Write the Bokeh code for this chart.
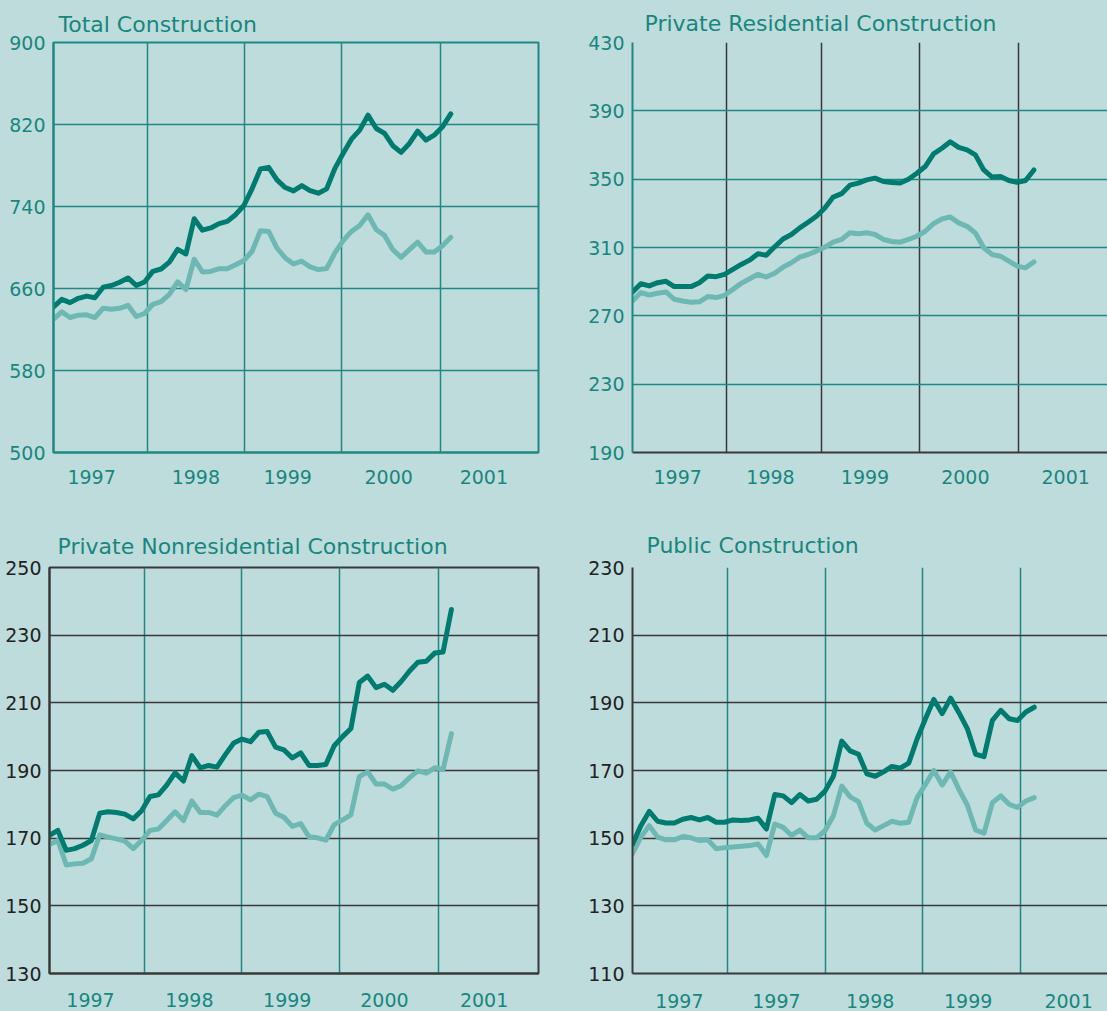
from bokeh.plotting import figure
from bokeh.layouts import column, row
from bokeh.models import FixedTicker, Range1d
from bokeh.embed import file_html
from bokeh.resources import INLINE

# ---------------- data (monthly, Jan 1997 onward) ----------------
months = list(range(49))

total_dark = [642.0, 649.4, 646.2, 650.4, 652.6, 651.0, 661.3, 662.9, 666.1, 670.3,
              662.9, 666.4, 676.7, 679.0, 685.7, 698.2, 693.7, 728.1, 716.9, 719.1,
              723.3, 725.5, 732.0, 741.0, 757.5, 776.6, 778.2, 765.9, 758.5, 755.2,
              760.4, 755.5, 753.0, 757.2, 777.2, 791.8, 805.7, 814.5, 829.1, 816.1,
              811.3, 799.3, 792.8, 801.5, 813.5, 804.8, 809.6, 817.7, 830.4]
total_light = [630.1, 637.2, 631.7, 634.0, 634.3, 631.7, 640.7, 639.8, 640.7, 643.6,
               632.7, 635.6, 644.6, 647.1, 654.2, 666.4, 659.0, 688.6, 676.1, 676.7,
               679.3, 679.3, 683.1, 687.3, 696.3, 716.4, 715.7, 699.5, 689.8, 684.0,
               686.6, 681.1, 678.5, 679.4, 694.7, 706.7, 715.7, 721.5, 731.9, 717.3,
               711.8, 697.9, 690.4, 697.9, 705.3, 695.6, 695.6, 701.8, 709.9]

resid_dark = [284.0, 288.8, 287.5, 289.4, 290.2, 287.1, 287.1, 287.1, 289.4, 293.3,
              292.9, 294.3, 297.2, 300.1, 302.6, 306.3, 305.5, 310.4, 315.0, 317.6,
              321.5, 324.8, 328.3, 333.1, 339.5, 341.5, 346.5, 347.7, 349.6, 350.6,
              348.6, 348.1, 347.7, 350.0, 353.5, 357.4, 364.8, 368.1, 371.9, 368.6,
              367.1, 364.2, 355.4, 351.2, 351.6, 349.2, 348.1, 349.2, 355.4]
resid_light = [278.7, 283.6, 282.2, 283.2, 284.0, 279.7, 278.7, 278.0, 278.2, 281.3,
               280.7, 282.0, 285.5, 289.0, 291.7, 294.3, 292.7, 294.9, 298.5, 301.1,
               304.4, 305.9, 307.9, 310.2, 313.2, 314.7, 318.6, 318.0, 318.6, 317.6,
               314.7, 313.5, 313.1, 314.7, 316.6, 319.5, 324.0, 326.7, 327.9, 324.4,
               322.4, 318.5, 309.8, 305.9, 304.9, 302.0, 299.1, 298.1, 301.6]

nonres_dark = [170.8, 172.3, 166.4, 166.9, 167.9, 169.3, 177.4, 177.8, 177.6, 177.1,
               175.7, 178.1, 182.3, 182.8, 185.7, 189.3, 186.9, 194.4, 190.8, 191.5,
               191.0, 194.7, 198.1, 199.3, 198.5, 201.3, 201.5, 196.9, 196.1, 193.7,
               195.2, 191.5, 191.5, 191.8, 197.3, 200.0, 202.4, 216.0, 217.9, 214.5,
               215.5, 213.7, 216.3, 219.4, 222.0, 222.3, 224.7, 225.0, 237.6]
nonres_light = [168.1, 169.3, 162.1, 162.4, 162.6, 163.9, 171.0, 170.3, 169.8, 169.1,
                166.9, 169.3, 172.3, 172.7, 175.2, 177.8, 175.2, 181.0, 177.6, 177.6,
                176.8, 179.6, 182.0, 182.7, 181.3, 183.0, 182.3, 177.4, 176.2, 173.5,
                174.3, 170.4, 170.1, 169.4, 174.0, 175.4, 176.9, 188.2, 189.6, 186.0,
                186.0, 184.5, 185.5, 187.9, 189.9, 189.2, 190.8, 190.3, 200.9]

public_dark = [148.2, 153.7, 157.9, 155.0, 154.5, 154.5, 155.6, 156.1, 155.4, 156.1,
               154.7, 154.7, 155.4, 155.2, 155.4, 155.9, 152.7, 162.9, 162.5, 160.5,
               162.9, 161.0, 161.5, 163.9, 168.3, 178.7, 175.8, 174.8, 169.0, 168.3,
               169.6, 171.2, 170.7, 172.2, 179.3, 185.3, 191.0, 186.8, 191.4, 187.1,
               182.4, 174.8, 174.1, 184.8, 187.8, 185.3, 184.8, 187.3, 188.7]
public_light = [145.4, 150.3, 153.7, 150.3, 149.5, 149.5, 150.5, 150.1, 149.3, 149.5,
                146.9, 147.2, 147.4, 147.6, 147.8, 148.3, 144.9, 154.2, 153.2, 150.8,
                152.4, 150.1, 150.1, 152.2, 156.6, 165.4, 162.2, 160.8, 154.4, 152.4,
                153.7, 155.0, 154.4, 154.7, 162.0, 165.9, 170.0, 165.7, 169.6, 164.4,
                159.8, 152.4, 151.5, 160.5, 162.5, 160.0, 159.1, 161.0, 162.0]

total_ticks = [500, 580, 660, 740, 820, 900]
resid_ticks = [190, 230, 270, 310, 350, 390, 430]
nonres_ticks = [130, 150, 170, 190, 210, 230, 250]
public_ticks = [110, 130, 150, 170, 190, 210, 230]

year_labels = ["1997", "1998", "1999", "2000", "2001"]
public_year_labels = ["1997", "1997", "1998", "1999", "2001"]

# ---------------- styles ----------------
BG = "#bfdcdc"
DARK = "#007b6f"
LIGHT = "#6db8b3"
TEAL = "#1f8882"
GREY = "#383838"
TEXT = "#17877e"
YDARK = "#222222"
FONT = "DejaVu Sans"


def panel(title, dark, light, yticks, labels, label_pos, year_edges, xend,
          width, height, borders, hgrid, vgrid, ylab_color, outline,
          left_col, bottom_col, title_offset, title_standoff, xstandoff):
    bl, br, bt, bb = borders
    p = figure(width=width, height=height, output_backend="svg",
               toolbar_location=None,
               x_range=Range1d(0, xend),
               y_range=Range1d(yticks[0], yticks[-1]),
               min_border_left=bl, min_border_right=br,
               min_border_top=bt, min_border_bottom=bb)
    p.background_fill_color = BG
    p.border_fill_color = BG
    if outline:
        p.outline_line_color = outline
        p.outline_line_width = 2
    else:
        p.outline_line_color = None

    p.title.text = title
    p.title.text_font = FONT
    p.title.text_font_size = "22px"
    p.title.text_font_style = "normal"
    p.title.text_color = TEXT
    p.title.align = "left"
    p.title.offset = title_offset
    p.title.standoff = title_standoff

    # y axis
    p.yaxis.ticker = FixedTicker(ticks=yticks)
    p.yaxis.major_tick_line_color = None
    p.yaxis.minor_tick_line_color = None
    p.yaxis.axis_line_color = left_col
    p.yaxis.axis_line_width = 2
    p.yaxis.major_label_text_font = FONT
    p.yaxis.major_label_text_font_size = "19px"
    p.yaxis.major_label_text_color = ylab_color
    p.yaxis.major_label_standoff = 2

    # x axis: year labels centred in each year
    p.xaxis.ticker = FixedTicker(ticks=label_pos)
    p.xaxis.major_label_overrides = {pos: lab for pos, lab in zip(label_pos, labels)}
    p.xaxis.major_tick_line_color = None
    p.xaxis.minor_tick_line_color = None
    p.xaxis.axis_line_color = bottom_col
    p.xaxis.axis_line_width = 2
    p.xaxis.major_label_text_font = FONT
    p.xaxis.major_label_text_font_size = "19px"
    p.xaxis.major_label_text_color = TEXT
    p.xaxis.major_label_standoff = xstandoff

    # grids
    p.xgrid.ticker = FixedTicker(ticks=year_edges)
    p.xgrid.grid_line_color = vgrid
    p.xgrid.grid_line_width = 1.5
    p.ygrid.grid_line_color = hgrid
    p.ygrid.grid_line_width = 1.5

    p.line(months, light, line_color=LIGHT, line_width=5,
           line_join="round", line_cap="round")
    p.line(months, dark, line_color=DARK, line_width=5,
           line_join="round", line_cap="round")
    return p


p1 = panel("Total Construction", total_dark, total_light, total_ticks,
           year_labels, [4.6, 17.2, 28.3, 40.5, 52.0], [11.3, 23.1, 34.8, 46.7], 58.6,
           560, 510, (53, 22, 41, 58), TEAL, TEAL, TEXT, TEAL, TEAL, TEAL, 5, 12, 11)

p2 = panel("Private Residential Construction", resid_dark, resid_light, resid_ticks,
           year_labels, [5.4, 16.5, 27.8, 39.8, 51.8], [11.2, 22.6, 34.3, 46.1], 56.8,
           547, 510, (72, 0, 42, 56), TEAL, GREY, TEXT, None, TEAL, GREY, 12, 13, 11)

p3 = panel("Private Nonresidential Construction", nonres_dark, nonres_light, nonres_ticks,
           year_labels, [4.9, 16.7, 28.4, 40.0, 51.9], [11.3, 22.9, 34.6, 46.4], 58.4,
           560, 501, (49, 22, 52, 38), GREY, TEAL, YDARK, GREY, GREY, GREY, 8, 17, 13)

p4 = panel("Public Construction", public_dark, public_light, public_ticks,
           public_year_labels, [5.6, 17.2, 28.4, 40.1, 52.1], [11.4, 23.1, 34.6, 46.4], 56.75,
           547, 501, (72, 0, 57, 33), GREY, TEAL, YDARK, None, GREY, GREY, 14, 19, 14)

layout = column(row(p1, p2), row(p3, p4))

html = file_html(layout, INLINE, title="Construction Spending")
html = html.replace("<head>", "<head>\n<style>html,body{margin:0;padding:0;background:#bfdcdc;overflow:hidden;}</style>", 1)
open("out.html", "w").write(html)
